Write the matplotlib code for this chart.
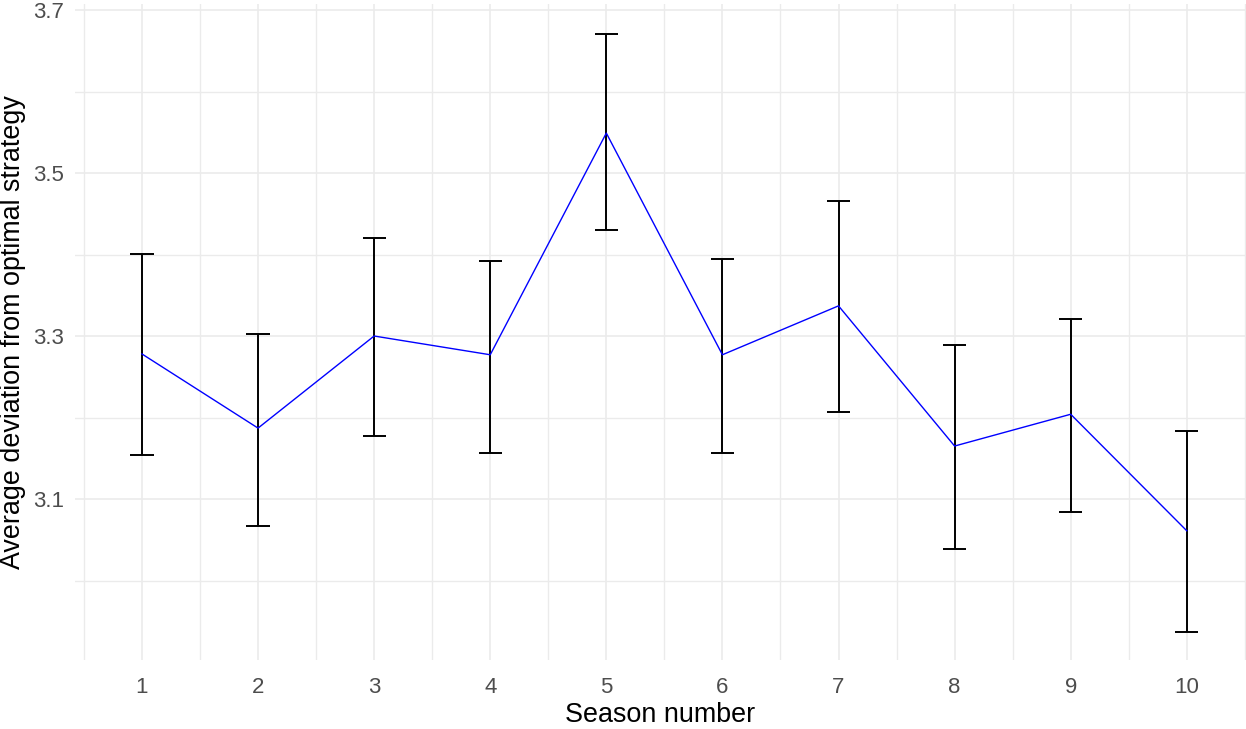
import numpy as np
import matplotlib
matplotlib.use("Agg")
import matplotlib.pyplot as plt
import matplotlib.ticker as mticker

# values
season = [1, 2, 3, 4, 5, 6, 7, 8, 9, 10]
avg_dev = [3.278, 3.187, 3.300, 3.277, 3.549, 3.277, 3.337, 3.165, 3.204, 3.061]
err_low = [3.154, 3.067, 3.177, 3.156, 3.430, 3.156, 3.207, 3.039, 3.084, 2.937]
err_high = [3.401, 3.302, 3.420, 3.392, 3.670, 3.394, 3.466, 3.289, 3.321, 3.183]

y_major = [3.1, 3.3, 3.5, 3.7]
y_minor = [3.0, 3.2, 3.4, 3.6]

plt.rcParams['font.family'] = ['Liberation Sans', 'DejaVu Sans']

fig = plt.figure(figsize=(12.46, 7.29), dpi=100)
ax = fig.add_axes([0.0602, 0.0947, 0.9398, 0.8998])

grid_col = '#EBEBEB'
for s in ax.spines.values():
    s.set_visible(False)

ax.xaxis.set_major_locator(mticker.FixedLocator(season))
ax.xaxis.set_minor_locator(mticker.FixedLocator(np.arange(0.5, 11, 1.0)))
ax.yaxis.set_major_locator(mticker.FixedLocator(y_major))
ax.yaxis.set_minor_locator(mticker.FixedLocator(y_minor))
ax.yaxis.set_major_formatter(mticker.FormatStrFormatter('%.1f'))
ax.grid(True, which='major', color=grid_col, lw=1.2)
ax.grid(True, which='minor', color=grid_col, lw=1.0)
ax.set_axisbelow(True)
ax.tick_params(which='both', length=0, labelsize=16, labelcolor='#4D4D4D')
ax.tick_params(axis='x', pad=12)
ax.tick_params(axis='y', pad=8)

# error bars
ax.vlines(season, err_low, err_high, color='black', lw=1.4, zorder=3)
cap = 0.1
ax.hlines(err_low, np.array(season) - cap, np.array(season) + cap, color='black', lw=1.4, zorder=3)
ax.hlines(err_high, np.array(season) - cap, np.array(season) + cap, color='black', lw=1.4, zorder=3)

ax.plot(season, avg_dev, color='#0000FF', lw=1.0, zorder=4)

ax.set_xlim(0.4235, 10.51)
ax.set_ylim(2.9025, 3.7074)

ax.set_xlabel('Season number', fontsize=19.4, labelpad=3)
ax.set_ylabel('Average deviation from optimal strategy', fontsize=19.4, labelpad=5)

fig.savefig('out.png', dpi=100)
